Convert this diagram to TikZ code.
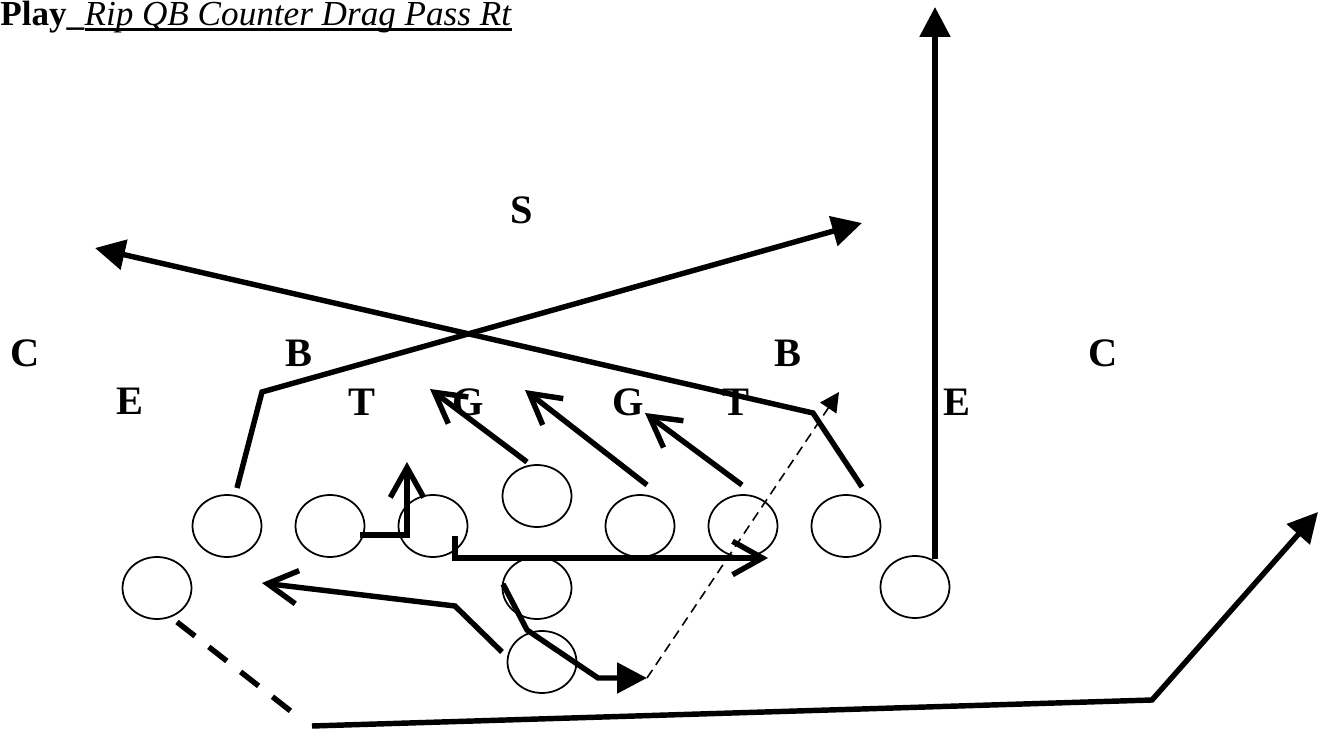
\documentclass[tikz,border=0pt]{standalone}
\usepackage{fontspec}
\setmainfont{Liberation Serif}
\newcommand\thickul[1]{\setbox0\hbox{#1}\rlap{\rule[-2.6pt]{\wd0}{1.3pt}}\box0}
\usetikzlibrary{arrows.meta,shapes.geometric}

\begin{document}
\begin{tikzpicture}[x=0.02cm, y=-0.02cm,
    player/.style={draw, ellipse, line width=1pt, minimum width=1.38cm, minimum height=1.24cm, inner sep=0pt},
    poslabel/.style={font=\fontsize{23}{27}\selectfont\bfseries, inner sep=0pt},
    route/.style={line width=3.1pt},
    blockroute/.style={route, -{Straight Barb[length=17pt, width=19pt]}},
    passroute/.style={route, -{Triangle[length=17pt, width=17pt]}}]
        \useasboundingbox (0,0) rectangle (1326,729);
        % title
        \node[anchor=base west, inner sep=0pt, font=\fontsize{20}{24}\selectfont] (title) at (0,26)
          {\textbf{Play\_}\thickul{\textit{Rip QB Counter Drag Pass Rt}}};
        % defense
        \node[poslabel] (s) at (522,210) {S};
        \node[poslabel] (cl) at (25,353) {C};
        \node[poslabel] (bl) at (299,353) {B};
        \node[poslabel] (br) at (788,353) {B};
        \node[poslabel] (cr) at (1103,353) {C};
        \node[poslabel] (el) at (130,401) {E};
        \node[poslabel] (tl) at (362,402) {T};
        \node[poslabel] (gl) at (468,402) {G};
        \node[poslabel] (gr) at (628,402) {G};
        \node[poslabel] (tr) at (736,402) {T};
        \node[poslabel] (er) at (957,402) {E};
        % offense
        \node[player] (te) at (227,526) {};
        \node[player] (lt) at (330,526) {};
        \node[player] (lg) at (433,526) {};
        \node[player] (ctr) at (537,496) {};
        \node[player] (rg) at (640,526) {};
        \node[player] (rt) at (743,526) {};
        \node[player] (ye) at (846,526) {};
        \node[player] (wing) at (157,588) {};
        \node[player] (qb) at (537,588) {};
        \node[player] (tb) at (542,662) {};
        \node[player] (fl) at (915,587) {};
        % route points
        \coordinate (teS) at (237,488);
        \coordinate (teC) at (262,392);
        \coordinate (teE) at (862,223);
        \coordinate (yeS) at (862,487);
        \coordinate (yeC) at (813,413);
        \coordinate (yeE) at (95,248);
        \coordinate (flS) at (935,559);
        \coordinate (flE) at (935,7);
        \coordinate (wgS) at (177,622);
        \coordinate (wgD) at (297,716);
        \coordinate (wgC) at (312,726);
        \coordinate (wgK) at (1152,700);
        \coordinate (wgE) at (1318,512);
        \coordinate (ltS) at (360,535);
        \coordinate (ltC) at (407,535);
        \coordinate (ltE) at (407,462);
        \coordinate (lgS) at (455,536);
        \coordinate (lgC) at (455,558);
        \coordinate (lgE) at (768,558);
        \coordinate (tbS) at (502,652);
        \coordinate (tbC) at (455,606);
        \coordinate (tbE) at (262,583);
        \coordinate (qbS) at (503,584);
        \coordinate (qbC) at (527,630);
        \coordinate (qbK) at (598,678);
        \coordinate (qbE) at (647,678);
        \coordinate (psE) at (839,392);
        \coordinate (ctS) at (527,462);
        \coordinate (ctE) at (430,389);
        \coordinate (rgS) at (647,485);
        \coordinate (rgE) at (525,390);
        \coordinate (rtS) at (742,485);
        \coordinate (rtE) at (645,413);
        % routes
        \draw[passroute] (teS) -- (teC) -- (teE);
        \draw[passroute] (yeS) -- (yeC) -- (yeE);
        \draw[passroute] (flS) -- (flE);
        \draw[route, dash pattern=on 13pt off 10pt] (wgS) -- (wgD);
        \draw[passroute] (wgC) -- (wgK) -- (wgE);
        \draw[blockroute] (ltS) -- (ltC) -- (ltE);
        \draw[blockroute] (lgS) -- (lgC) -- (lgE);
        \draw[blockroute] (tbS) -- (tbC) -- (tbE);
        \draw[passroute] (qbS) -- (qbC) -- (qbK) -- (qbE);
        \draw[line width=0.9pt, dash pattern=on 5.5pt off 3.5pt, -{Triangle[length=11pt, width=11pt]}] (qbE) -- (psE);
        \draw[blockroute] (ctS) -- (ctE);
        \draw[blockroute] (rgS) -- (rgE);
        \draw[blockroute] (rtS) -- (rtE);
      \end{tikzpicture}
\end{document}
